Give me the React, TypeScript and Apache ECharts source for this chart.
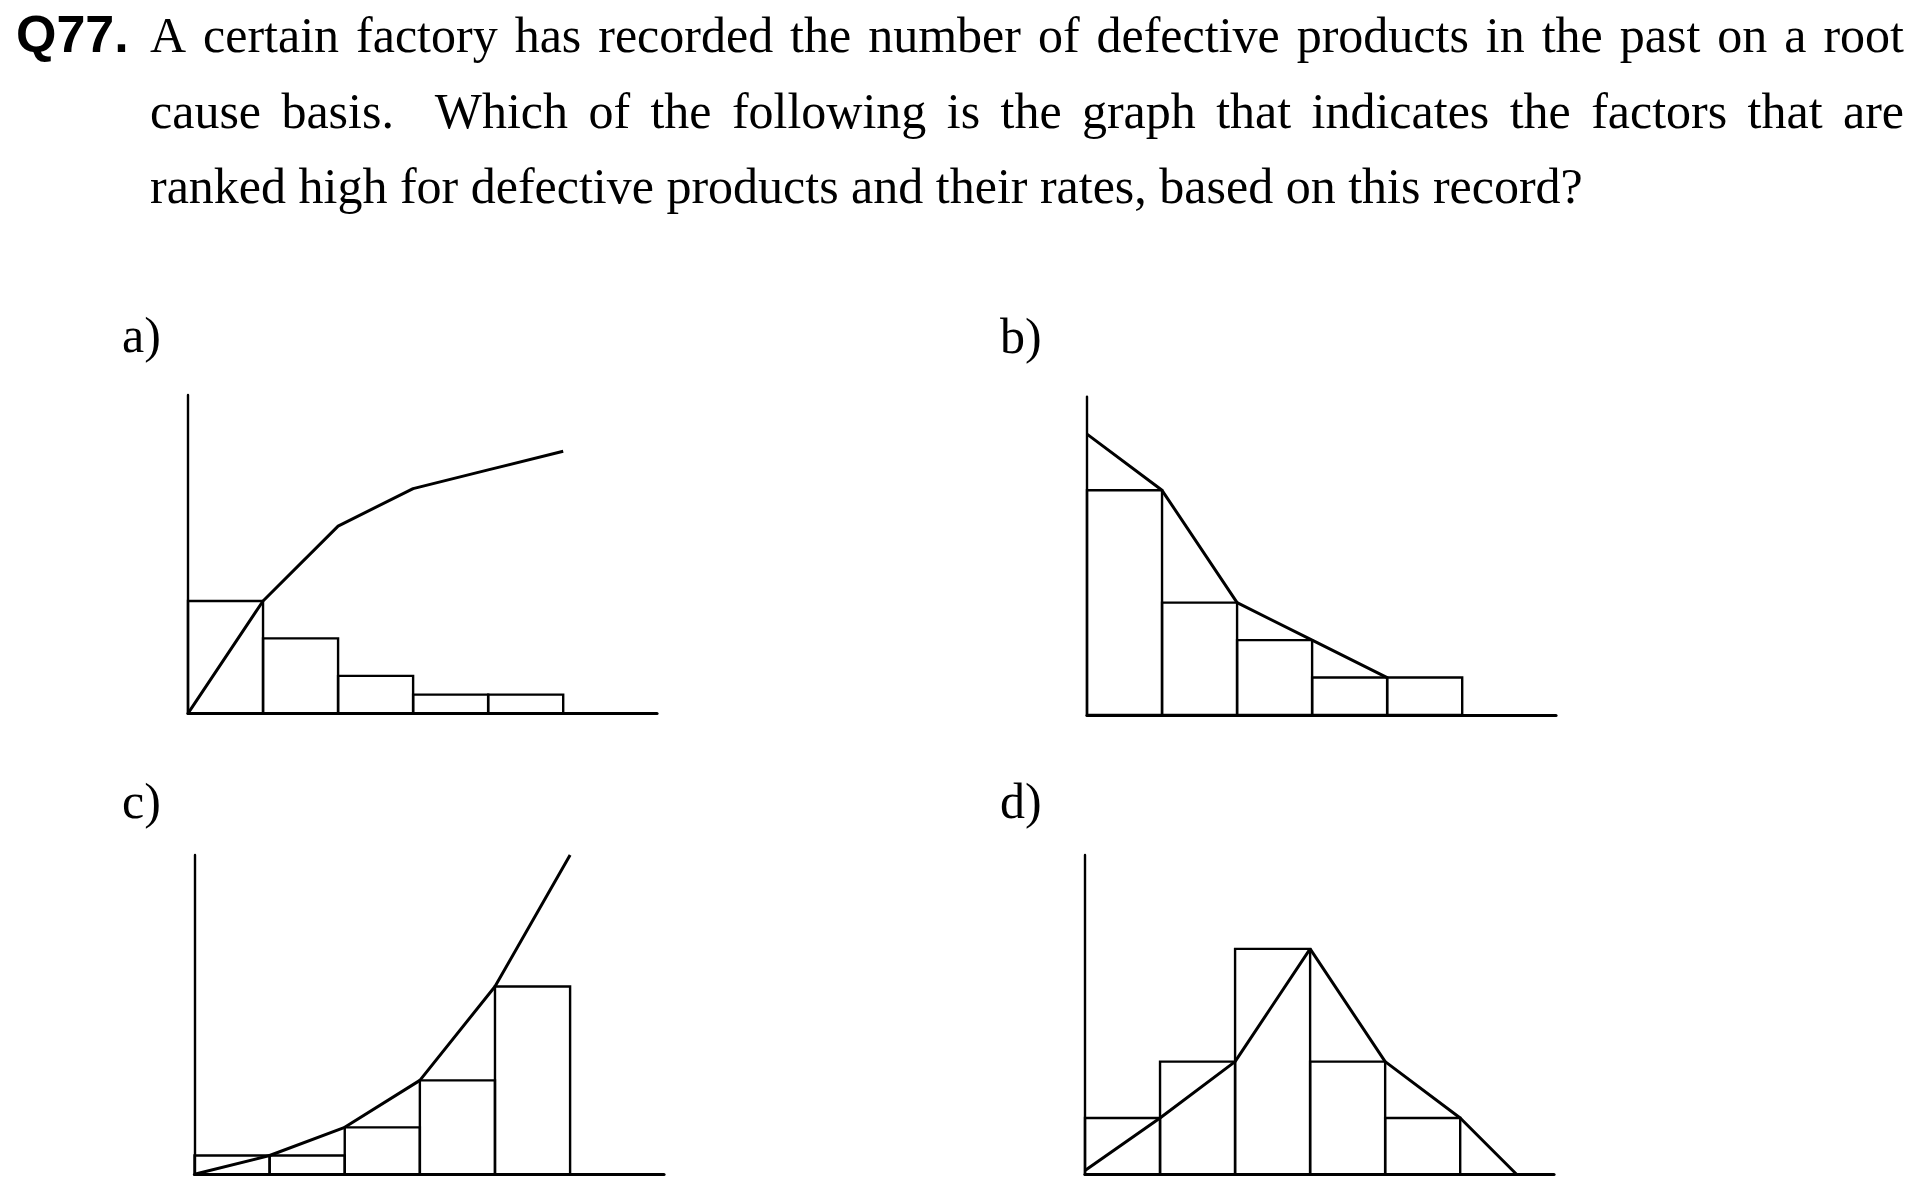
import React, { useEffect, useRef } from "react";
import * as echarts from "echarts";

const questionNo = "Q77.";
const questionLines = [
  "A certain factory has recorded the number of defective products in the past on a root",
  "cause basis.  Which of the following is the graph that indicates the factors that are",
  "ranked high for defective products and their rates, based on this record?",
];
const optionLabels = ["a)", "b)", "c)", "d)"];

const barsA = [6, 4, 2, 1, 1];
const lineA = [[0, 0], [1, 6], [2, 10], [3, 12], [4, 13], [5, 14]];
const barsB = [12, 6, 4, 2, 2];
const lineB = [[0, 15], [1, 12], [2, 6], [3, 4], [4, 2]];
const barsC = [1, 1, 2.5, 5, 10];
const lineC = [[0, 0], [1, 1], [2, 2.5], [3, 5], [4, 10], [5, 17]];
const barsD = [3, 6, 12, 6, 3];
const lineD = [[0, 0.2], [1, 3], [2, 6], [3, 12], [4, 6], [5, 3], [5.75, 0]];

const yMax = 17;
const xMax = 6.25;

const SERIF = '"Liberation Serif", "Times New Roman", serif';
const SANS = '"Liberation Sans", Arial, sans-serif';
const FS = 50;

export default function App() {
  const ref = useRef<HTMLDivElement>(null);
  useEffect(() => {
    if (!ref.current) return;
    const chart = echarts.init(ref.current, null, { renderer: "svg" });

    const canvas = document.createElement("canvas");
    const ctx = canvas.getContext("2d")!;
    ctx.font = `${FS}px ${SERIF}`;
    const measure = (s: string) => ctx.measureText(s).width;

    const textEls: any[] = [];
    const mkText = (text: string, x: number, baseline: number, font: string, fs: number) => ({
      type: "text",
      x,
      y: baseline - fs * 0.34,
      silent: true,
      style: {
        text,
        font,
        fill: "#000",
        textAlign: "left",
        textVerticalAlign: "middle",
        align: "left",
        verticalAlign: "middle",
      },
    });

    textEls.push(mkText(questionNo, 16, 52, `bold 52px ${SANS}`, 52));

    const leftX = 150;
    const rightX = 1904;
    const baselines = [52, 128, 203];
    questionLines.forEach((line, li) => {
      const font = `${FS}px ${SERIF}`;
      if (li === questionLines.length - 1) {
        textEls.push(mkText(line, leftX, baselines[li], font, FS));
        return;
      }
      const tokens = line.split(" ");
      const nSpaces = tokens.length - 1;
      const wordsW = tokens.reduce((s, t) => s + (t ? measure(t) : 0), 0);
      const gap = (rightX - leftX - wordsW) / nSpaces;
      let x = leftX;
      tokens.forEach((t, i) => {
        if (t) {
          textEls.push(mkText(t, x, baselines[li], font, FS));
          x += measure(t);
        }
        if (i < tokens.length - 1) x += gap;
      });
    });

    const labelPos = [
      [122, 352],
      [1000, 353],
      [122, 818],
      [1000, 818],
    ];
    optionLabels.forEach((l, i) => {
      textEls.push(mkText(l, labelPos[i][0], labelPos[i][1], `${FS}px ${SERIF}`, FS));
    });

    const grids = [
      { left: 188, top: 395, width: 469, height: 318.3 },
      { left: 1087, top: 396.7, width: 469, height: 318.3 },
      { left: 194.5, top: 855, width: 469.5, height: 319.3 },
      { left: 1085, top: 855, width: 469, height: 319.3 },
    ];
    const barsAll = [barsA, barsB, barsC, barsD];
    const linesAll = [lineA, lineB, lineC, lineD];

    const xAxes = grids.map((_, i) => ({
      type: "value",
      gridIndex: i,
      min: 0,
      max: xMax,
      axisLine: { show: true, onZero: true, lineStyle: { color: "#000", width: 3.2 } },
      axisTick: { show: false },
      axisLabel: { show: false },
      splitLine: { show: false },
    }));
    const yAxes = grids.map((_, i) => ({
      type: "value",
      gridIndex: i,
      min: 0,
      max: yMax,
      axisLine: { show: true, onZero: true, lineStyle: { color: "#000", width: 2.4 } },
      axisTick: { show: false },
      axisLabel: { show: false },
      splitLine: { show: false },
    }));

    const series: any[] = [];
    barsAll.forEach((bars, i) => {
      series.push({
        type: "custom",
        xAxisIndex: i,
        yAxisIndex: i,
        encode: { x: [0, 1], y: 2 },
        data: bars.map((v, k) => [k, k + 1, v]),
        renderItem: (params: any, api: any) => {
          const x0 = api.value(0);
          const x1 = api.value(1);
          const h = api.value(2);
          const p0 = api.coord([x0, h]);
          const p1 = api.coord([x1, 0]);
          return {
            type: "rect",
            shape: { x: p0[0], y: p0[1], width: p1[0] - p0[0], height: p1[1] - p0[1] },
            style: { fill: "none", stroke: "#000", lineWidth: 2.4 },
          };
        },
        z: 2,
      });
      series.push({
        type: "line",
        xAxisIndex: i,
        yAxisIndex: i,
        data: linesAll[i],
        symbol: "none",
        clip: false,
        lineStyle: { color: "#000", width: 3 },
        z: 3,
      });
    });

    chart.setOption({
      animation: false,
      backgroundColor: "#fff",
      grid: grids.map((g) => ({ ...g, containLabel: false })),
      xAxis: xAxes,
      yAxis: yAxes,
      series,
      graphic: { elements: textEls },
    });
    return () => chart.dispose();
  }, []);
  return (
    <div
      ref={ref}
      style={{ position: "absolute", left: 0, top: 0, width: 1920, height: 1192, background: "#fff" }}
    />
  );
}
